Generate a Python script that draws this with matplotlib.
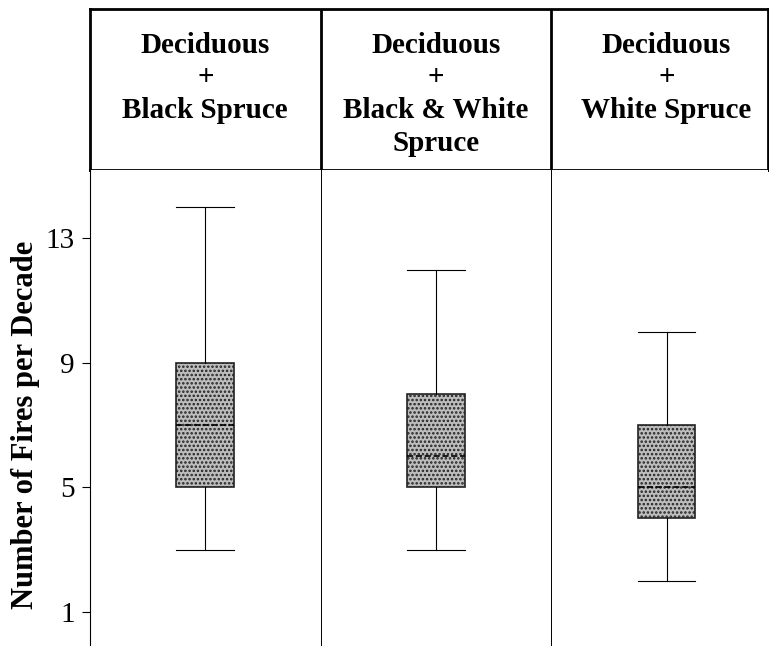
import numpy as np
import matplotlib.pyplot as plt

# forest types (header) and the five box numbers per type
groups = ["Deciduous\n+\nBlack Spruce", "Deciduous\n+\nBlack & White\nSpruce", "Deciduous\n+\nWhite Spruce"]
whisk_lo = [3, 3, 2]
q1 = [5, 5, 4]
med = [7, 6, 5]
q3 = [9, 8, 7]
whisk_hi = [14, 12, 10]
yticks = [1, 5, 9, 13]

plt.rcParams['font.family'] = ['Liberation Serif', 'DejaVu Serif']
plt.rcParams['hatch.linewidth'] = 1.2

W, H = 769, 646
fig = plt.figure(figsize=(W / 100, H / 100), dpi=100)

x0, x1 = 90 / W, 768 / W
ytop, ymid = 1 - 9 / H, 1 - 170 / H

# header box with the group names
hdr = fig.add_axes([x0, ymid, x1 - x0, ytop - ymid])
hdr.set_xlim(0.5, 3.44)
hdr.set_ylim(0, 1)
hdr.set_xticks([])
hdr.set_yticks([])
for s in hdr.spines.values():
    s.set_linewidth(2.0)
for xd in [1.5, 2.5]:
    hdr.axvline(xd, color='black', lw=2.0)
for i, g in enumerate(groups):
    hdr.text(i + 1, 0.86, g, ha='center', va='top', fontsize=21,
             fontweight='bold', linespacing=1.28)

# main plot area
ax = fig.add_axes([x0, 0, x1 - x0, ymid])
stats = []
for i in range(len(groups)):
    stats.append(dict(whislo=whisk_lo[i], q1=q1[i], med=med[i], q3=q3[i], whishi=whisk_hi[i]))
bp = ax.bxp(stats, positions=[1, 2, 3], widths=0.25, capwidths=0.25, patch_artist=True,
            showfliers=False,
            boxprops=dict(facecolor='#bdbdbd', edgecolor='#222222', linewidth=1.2, hatch='....'),
            medianprops=dict(color='black', linestyle='--', linewidth=1.2),
            whiskerprops=dict(color='black', linewidth=0.8),
            capprops=dict(color='black', linewidth=0.8))

for xd in [1.5, 2.5]:
    ax.axvline(xd, color='black', lw=0.7)

ax.set_xlim(0.5, 3.44)
ax.set_ylim(-0.1, 15.2)
ax.set_yticks(yticks)
ax.set_xticks([])
ax.tick_params(axis='y', direction='out', length=6, width=0.8, labelsize=21, pad=5)
for side in ['top', 'right', 'bottom']:
    ax.spines[side].set_visible(False)
ax.spines['left'].set_linewidth(0.8)
ax.set_ylabel("Number of Fires per Decade", fontsize=22, fontweight='bold')
ax.yaxis.set_label_coords(-0.074, 0.465)

fig.savefig("out.png", dpi=100)
